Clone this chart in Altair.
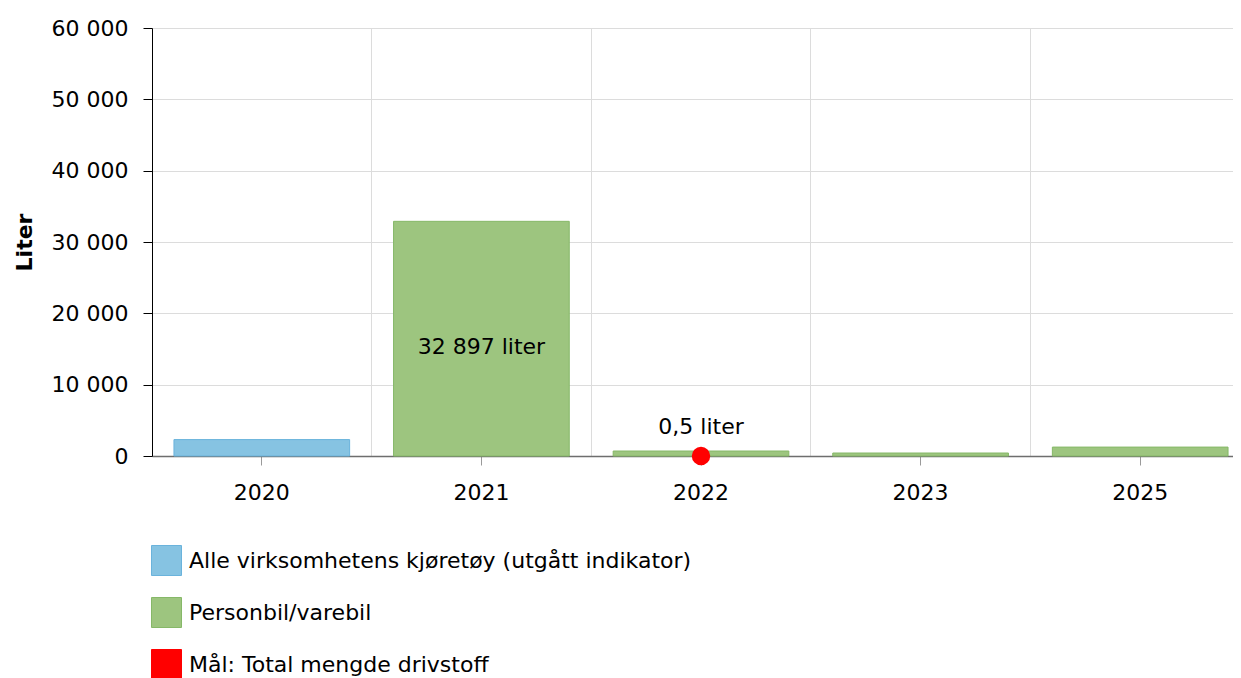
import altair as alt
import pandas as pd

FONT = "DejaVu Sans"
FS = 22

years = ["2020", "2021", "2022", "2023", "2025"]
series_names = [
    "Alle virksomhetens kjøretøy (utgått indikator)",
    "Personbil/varebil",
    "Mål: Total mengde drivstoff",
]
series_colors = ["#86c3e2", "#9dc57f", "#ff0000"]
series_strokes = ["#6ab3dc", "#86b868", "#ff0000"]

bar_years = ["2020", "2021", "2022", "2023", "2025"]
bar_series = [series_names[0], series_names[1], series_names[1], series_names[1], series_names[1]]
bar_values = [2300, 32897, 700, 420, 1250]

goal_years = ["2022"]
goal_values = [0.5]
goal_labels = ["0,5 liter"]

bar_label_years = ["2021"]
bar_label_values = [32897]
bar_label_texts = ["32 897 liter"]

y_ticks = [0, 10000, 20000, 30000, 40000, 50000, 60000]

bars_df = pd.DataFrame({"year": bar_years, "series": bar_series, "value": bar_values})
goal_df = pd.DataFrame({"year": goal_years, "series": [series_names[2]] * len(goal_years),
                        "value": goal_values, "label": goal_labels})
blab_df = pd.DataFrame({"year": bar_label_years, "value": bar_label_values, "label": bar_label_texts})

X_RANGE = [0, 1098]
x_scale = alt.Scale(domain=years, paddingInner=0.2, paddingOuter=0.1, range=X_RANGE)
y_scale = alt.Scale(domain=[0, 60000], nice=False)
color_scale = alt.Scale(domain=series_names, range=series_colors)
stroke_scale = alt.Scale(domain=series_names, range=series_strokes)

legend = alt.Legend(
    title=None, orient="none", legendX=-1, legendY=517, direction="vertical",
    symbolType="square", symbolSize=900, symbolStrokeWidth=1, rowPadding=17,
    labelFontSize=FS, labelFont=FONT, labelColor="#000000", labelOffset=7,
    padding=0, labelLimit=0,
)

x_main = alt.X("year:N", scale=x_scale, sort=years,
               axis=alt.Axis(title=None, labelAngle=0, grid=False, tickSize=9, labelPadding=17,
                             labelFontSize=FS, labelFont=FONT, labelColor="#000000",
                             domainColor="#6e6e6e", domainWidth=1.5, tickColor="#9a9a9a"))
y_main = alt.Y("value:Q", scale=y_scale,
               axis=alt.Axis(title="Liter", values=y_ticks, format=",d", grid=True, gridColor="#dcdcdc",
                             tickSize=9, tickColor="#000000", domainColor="#000000",
                             labelFontSize=FS, labelFont=FONT, labelColor="#000000", labelPadding=15,
                             titleFontSize=FS, titleFont=FONT, titleFontWeight="bold",
                             titleColor="#000000", titlePadding=15))

x_plain = alt.X("year:N", scale=x_scale, sort=years, axis=None)

grid_layer = alt.Chart(bars_df).mark_point(opacity=0).encode(
    x=alt.X("year:N", scale=x_scale, sort=years,
            axis=alt.Axis(orient="top", title=None, grid=True, bandPosition=1.125, gridColor="#dcdcdc",
                          labels=False, ticks=False, domain=False)),
    y=alt.Y("value:Q", scale=y_scale),
)

bars = alt.Chart(bars_df).mark_bar(strokeWidth=1).encode(
    x=x_main,
    y=y_main,
    color=alt.Color("series:N", scale=color_scale, legend=legend),
    stroke=alt.Stroke("series:N", scale=stroke_scale, legend=legend),
)

bar_text = alt.Chart(blab_df).transform_calculate(mid="datum.value / 2").mark_text(
    font=FONT, fontSize=FS, color="#000000", baseline="middle", dy=8
).encode(
    x=x_plain,
    y=alt.Y("mid:Q", scale=y_scale),
    text="label:N",
)

goal_pts = alt.Chart(goal_df).mark_circle(size=270, opacity=1).encode(
    x=x_plain,
    y=alt.Y("value:Q", scale=y_scale),
    color=alt.Color("series:N", scale=color_scale, legend=legend),
    stroke=alt.Stroke("series:N", scale=stroke_scale, legend=legend),
)

goal_text = alt.Chart(goal_df).mark_text(
    font=FONT, fontSize=FS, color="#000000", baseline="middle", dy=-29
).encode(
    x=x_plain,
    y=alt.Y("value:Q", scale=y_scale),
    text="label:N",
)

chart = alt.layer(grid_layer, bars, bar_text, goal_pts, goal_text).resolve_axis(
    x="independent"
).properties(
    width=1081, height=428,
    padding={"left": 144, "top": 20, "right": 0, "bottom": 224},
    autosize=alt.AutoSizeParams(type="none"),
).configure(
    locale={"number": {"decimal": ",", "thousands": " ", "grouping": [3], "currency": ["", " kr"]}},
).configure_view(stroke=None)

chart.save("out.html", embed_options={"renderer": "svg", "actions": False})
